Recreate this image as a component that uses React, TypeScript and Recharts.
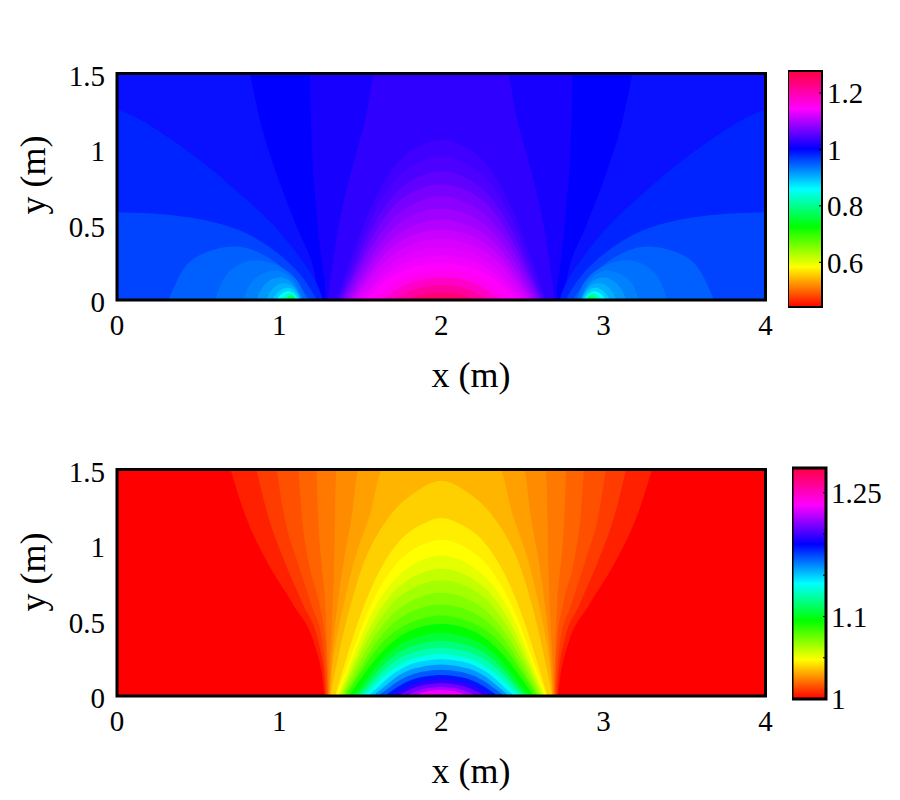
import React from 'react';
import { Area, Bar, BarChart, ComposedChart, ReferenceArea, XAxis, YAxis } from 'recharts';

const FONT = '"Liberation Serif", "Times New Roman", serif';

const xTicks = [0, 1, 2, 3, 4];
const yTicks = [0, 0.5, 1, 1.5];

// upper panel: far field wedges, hanging from the top edge
const topHangX = [
  [0.82, 0.883, 0.985, 1.11, 1.21, 1.26, 2.74, 2.79, 2.89, 3.015, 3.117, 3.18],
  [1.19, 1.2, 1.23, 1.27, 1.285, 1.29, 2.71, 2.715, 2.73, 2.77, 2.8, 2.81],
];
const topHangY = [
  [1.5, 1.184, 0.833, 0.482, 0.219, 0, 0, 0.219, 0.482, 0.833, 1.184, 1.5],
  [1.5, 1.1, 0.6, 0.2, 0.08, 0, 0, 0.08, 0.2, 0.6, 1.1, 1.5],
];
const topHangColors = ['#0000ff', '#1800ff'];

// upper panel: side lobes around the two low spots
const topLobeX = [
  [0, 0.14, 0.35, 0.55, 0.76, 0.97, 1.11, 1.23, 1.27, 2.73, 2.77, 2.89, 3.03, 3.24, 3.45, 3.65, 3.86, 4],
  [0, 0.245, 0.45, 0.656, 0.862, 1.027, 1.15, 1.233, 2.767, 2.85, 2.973, 3.138, 3.344, 3.55, 3.755, 4],
  [0.317, 0.41, 0.51, 0.68, 0.82, 0.99, 1.11, 1.19, 2.81, 2.89, 3.01, 3.18, 3.32, 3.49, 3.59, 3.683],
  [0.605, 0.655, 0.76, 0.883, 1.027, 1.13, 1.165, 2.835, 2.87, 2.973, 3.117, 3.24, 3.345, 3.395],
  [0.78, 0.82, 0.925, 1.03, 1.11, 1.145, 2.855, 2.89, 2.97, 3.075, 3.18, 3.22],
  [0.86, 0.89, 0.97, 1.05, 1.11, 1.14, 2.86, 2.89, 2.95, 3.03, 3.11, 3.14],
  [0.92, 0.95, 1.0, 1.07, 1.115, 1.135, 2.865, 2.885, 2.93, 3.0, 3.05, 3.08],
  [0.96, 0.985, 1.03, 1.08, 1.115, 1.13, 2.87, 2.885, 2.92, 2.97, 3.015, 3.04],
  [0.985, 1.01, 1.05, 1.09, 1.12, 2.88, 2.91, 2.95, 2.99, 3.015],
  [1.01, 1.04, 1.08, 1.11, 2.89, 2.92, 2.96, 2.99],
  [1.035, 1.06, 1.09, 1.105, 2.895, 2.91, 2.94, 2.965],
];
const topLobeY = [
  [1.26, 1.206, 1.053, 0.9, 0.7, 0.504, 0.307, 0.132, 0, 0, 0.132, 0.307, 0.504, 0.7, 0.9, 1.053, 1.206, 1.26],
  [0.581, 0.575, 0.549, 0.505, 0.417, 0.285, 0.154, 0, 0, 0.154, 0.285, 0.417, 0.505, 0.549, 0.575, 0.581],
  [0, 0.23, 0.307, 0.362, 0.35, 0.252, 0.12, 0, 0, 0.12, 0.252, 0.35, 0.362, 0.307, 0.23, 0],
  [0, 0.164, 0.252, 0.274, 0.219, 0.12, 0, 0, 0.12, 0.219, 0.274, 0.252, 0.164, 0],
  [0, 0.13, 0.197, 0.197, 0.11, 0, 0, 0.11, 0.197, 0.197, 0.13, 0],
  [0, 0.09, 0.155, 0.15, 0.08, 0, 0, 0.08, 0.15, 0.155, 0.09, 0],
  [0, 0.07, 0.115, 0.11, 0.06, 0, 0, 0.06, 0.11, 0.115, 0.07, 0],
  [0, 0.05, 0.085, 0.08, 0.04, 0, 0, 0.04, 0.08, 0.085, 0.05, 0],
  [0, 0.04, 0.065, 0.05, 0, 0, 0.05, 0.065, 0.04, 0],
  [0, 0.04, 0.055, 0, 0, 0.055, 0.04, 0],
  [0, 0.03, 0.035, 0, 0, 0.035, 0.03, 0],
];
const topLobeColors = ['#0024ff', '#0044ff', '#0060ff', '#0070ff', '#0080ff', '#0098ff', '#00b0ff', '#00d0ff', '#00ffff', '#00ffc0', '#00ff60'];

// upper panel: central dome
const topDomeX = [
  [1.3, 1.325, 1.356, 1.397, 1.459, 1.541, 1.592, 2.408, 2.459, 2.541, 2.603, 2.644, 2.675, 2.7],
  [1.355, 1.45, 1.55, 1.68, 1.81, 2, 2.19, 2.32, 2.45, 2.55, 2.645],
  [1.365, 1.46, 1.555, 1.68, 1.81, 2, 2.19, 2.32, 2.445, 2.54, 2.635],
  [1.375, 1.47, 1.56, 1.69, 1.81, 2, 2.19, 2.31, 2.44, 2.53, 2.625],
  [1.385, 1.48, 1.57, 1.69, 1.815, 2, 2.185, 2.31, 2.43, 2.52, 2.615],
  [1.4, 1.49, 1.58, 1.7, 1.82, 2, 2.18, 2.3, 2.42, 2.51, 2.6],
  [1.415, 1.5, 1.59, 1.71, 1.825, 2, 2.175, 2.29, 2.41, 2.5, 2.585],
  [1.43, 1.515, 1.6, 1.715, 1.83, 2, 2.17, 2.285, 2.4, 2.485, 2.57],
  [1.445, 1.53, 1.61, 1.72, 1.835, 2, 2.165, 2.28, 2.39, 2.47, 2.555],
  [1.46, 1.54, 1.62, 1.73, 1.84, 2, 2.16, 2.27, 2.38, 2.46, 2.54],
  [1.48, 1.56, 1.635, 1.74, 1.845, 2, 2.155, 2.26, 2.365, 2.44, 2.52],
  [1.5, 1.575, 1.65, 1.75, 1.85, 2, 2.15, 2.25, 2.35, 2.425, 2.5],
  [1.53, 1.6, 1.67, 1.765, 1.86, 2, 2.14, 2.235, 2.33, 2.4, 2.47],
  [1.57, 1.635, 1.7, 1.785, 1.87, 2, 2.13, 2.215, 2.3, 2.365, 2.43],
  [1.63, 1.685, 1.74, 1.815, 1.89, 2, 2.11, 2.185, 2.26, 2.315, 2.37],
  [1.71, 1.755, 1.795, 1.855, 1.915, 2, 2.085, 2.145, 2.205, 2.245, 2.29],
  [1.8, 1.83, 1.86, 1.9, 1.94, 2, 2.06, 2.1, 2.14, 2.17, 2.2],
];
const topDomeY = [
  [0, 0.2, 0.42, 0.64, 0.905, 1.235, 1.5, 1.5, 1.235, 0.905, 0.64, 0.42, 0.2, 0],
  [0, 0.29, 0.59, 0.86, 1.0, 1.09, 1.0, 0.86, 0.59, 0.29, 0],
  [0, 0.26, 0.53, 0.77, 0.89, 0.98, 0.89, 0.77, 0.53, 0.26, 0],
  [0, 0.23, 0.47, 0.69, 0.8, 0.88, 0.8, 0.69, 0.47, 0.23, 0],
  [0, 0.21, 0.42, 0.62, 0.72, 0.79, 0.72, 0.62, 0.42, 0.21, 0],
  [0, 0.19, 0.38, 0.55, 0.64, 0.71, 0.64, 0.55, 0.38, 0.19, 0],
  [0, 0.16, 0.34, 0.49, 0.57, 0.625, 0.57, 0.49, 0.34, 0.16, 0],
  [0, 0.15, 0.3, 0.43, 0.5, 0.55, 0.5, 0.43, 0.3, 0.15, 0],
  [0, 0.13, 0.26, 0.38, 0.44, 0.48, 0.44, 0.38, 0.26, 0.13, 0],
  [0, 0.11, 0.23, 0.33, 0.38, 0.42, 0.38, 0.33, 0.23, 0.11, 0],
  [0, 0.09, 0.19, 0.28, 0.33, 0.36, 0.33, 0.28, 0.19, 0.09, 0],
  [0, 0.08, 0.165, 0.24, 0.28, 0.305, 0.28, 0.24, 0.165, 0.08, 0],
  [0, 0.07, 0.14, 0.2, 0.23, 0.255, 0.23, 0.2, 0.14, 0.07, 0],
  [0, 0.054, 0.11, 0.16, 0.186, 0.205, 0.186, 0.16, 0.11, 0.054, 0],
  [0, 0.04, 0.08, 0.12, 0.14, 0.155, 0.14, 0.12, 0.08, 0.04, 0],
  [0, 0.03, 0.055, 0.08, 0.093, 0.102, 0.093, 0.08, 0.055, 0.03, 0],
  [0, 0.014, 0.03, 0.04, 0.047, 0.052, 0.047, 0.04, 0.03, 0.014, 0],
];
const topDomeColors = ['#3000ff', '#4000ff', '#4c00ff', '#6000ff', '#7800ff', '#8c00ff', '#a000ff', '#b400ff', '#c800ff', '#d800ff', '#e400ff', '#f000ff', '#ff00ff', '#ff00f0', '#ff00c8', '#ff00a0', '#ff0070'];

// lower panel: orange wedges hanging from the top edge
const lowHangX = [
  [0.7, 0.79, 0.92, 1.09, 1.21, 1.26, 1.285, 2.715, 2.74, 2.79, 2.91, 3.08, 3.21, 3.3],
  [0.86, 0.93, 1.03, 1.15, 1.24, 1.275, 1.29, 2.71, 2.725, 2.76, 2.85, 2.97, 3.07, 3.14],
  [0.985, 1.03, 1.11, 1.2, 1.265, 1.285, 1.295, 2.705, 2.715, 2.735, 2.8, 2.89, 2.97, 3.015],
  [1.12, 1.14, 1.18, 1.25, 1.285, 1.295, 1.3, 2.7, 2.705, 2.715, 2.75, 2.82, 2.86, 2.88],
  [1.23, 1.24, 1.26, 1.285, 1.295, 1.3, 1.303, 2.697, 2.7, 2.705, 2.715, 2.74, 2.76, 2.77],
];
const lowHangY = [
  [1.5, 1.2, 0.9, 0.6, 0.37, 0.17, 0, 0, 0.17, 0.37, 0.6, 0.9, 1.2, 1.5],
  [1.5, 1.2, 0.9, 0.6, 0.37, 0.17, 0, 0, 0.17, 0.37, 0.6, 0.9, 1.2, 1.5],
  [1.5, 1.2, 0.9, 0.6, 0.37, 0.17, 0, 0, 0.17, 0.37, 0.6, 0.9, 1.2, 1.5],
  [1.5, 1.2, 0.9, 0.6, 0.37, 0.17, 0, 0, 0.17, 0.37, 0.6, 0.9, 1.2, 1.5],
  [1.5, 1.2, 0.9, 0.6, 0.37, 0.17, 0, 0, 0.17, 0.37, 0.6, 0.9, 1.2, 1.5],
];
const lowHangColors = ['#ff2000', '#ff3c00', '#ff5000', '#ff6400', '#ff7800'];

// lower panel: central dome
const lowDomeX = [
  [1.305, 1.31, 1.32, 1.33, 1.34, 1.345, 1.355, 2.645, 2.655, 2.66, 2.67, 2.68, 2.69, 2.695],
  [1.31, 1.32, 1.335, 1.36, 1.4, 1.45, 1.49, 2.51, 2.55, 2.6, 2.64, 2.665, 2.68, 2.69],
  [1.315, 1.326, 1.353, 1.397, 1.465, 1.56, 1.64, 2.36, 2.44, 2.535, 2.603, 2.647, 2.674, 2.685],
  [1.315, 1.366, 1.418, 1.469, 1.52, 1.582, 1.665, 1.767, 1.87, 2, 2.13, 2.233, 2.335, 2.418, 2.48, 2.531, 2.582, 2.634, 2.685],
  [1.345, 1.428, 1.479, 1.541, 1.603, 1.685, 1.788, 1.911, 2, 2.089, 2.212, 2.315, 2.397, 2.459, 2.521, 2.572, 2.655],
  [1.35, 1.45, 1.545, 1.675, 1.805, 2, 2.195, 2.325, 2.455, 2.55, 2.65],
  [1.36, 1.455, 1.55, 1.68, 1.81, 2, 2.19, 2.32, 2.45, 2.545, 2.64],
  [1.37, 1.465, 1.56, 1.685, 1.81, 2, 2.19, 2.315, 2.44, 2.535, 2.63],
  [1.38, 1.47, 1.565, 1.69, 1.815, 2, 2.185, 2.31, 2.435, 2.53, 2.62],
  [1.39, 1.48, 1.575, 1.695, 1.815, 2, 2.185, 2.305, 2.425, 2.52, 2.61],
  [1.4, 1.49, 1.58, 1.7, 1.82, 2, 2.18, 2.3, 2.42, 2.51, 2.6],
  [1.41, 1.5, 1.585, 1.705, 1.825, 2, 2.175, 2.295, 2.415, 2.5, 2.59],
  [1.43, 1.515, 1.6, 1.715, 1.83, 2, 2.17, 2.285, 2.4, 2.485, 2.57],
  [1.46, 1.54, 1.62, 1.73, 1.84, 2, 2.16, 2.27, 2.38, 2.46, 2.54],
  [1.48, 1.56, 1.635, 1.74, 1.845, 2, 2.155, 2.26, 2.365, 2.44, 2.52],
  [1.5, 1.575, 1.65, 1.75, 1.85, 2, 2.15, 2.25, 2.35, 2.425, 2.5],
  [1.52, 1.59, 1.665, 1.76, 1.855, 2, 2.145, 2.24, 2.335, 2.41, 2.48],
  [1.55, 1.62, 1.685, 1.775, 1.865, 2, 2.135, 2.225, 2.315, 2.38, 2.45],
  [1.58, 1.645, 1.705, 1.79, 1.875, 2, 2.125, 2.21, 2.295, 2.355, 2.42],
  [1.61, 1.67, 1.725, 1.805, 1.885, 2, 2.115, 2.195, 2.275, 2.33, 2.39],
  [1.65, 1.7, 1.755, 1.825, 1.895, 2, 2.105, 2.175, 2.245, 2.3, 2.35],
  [1.69, 1.735, 1.785, 1.845, 1.905, 2, 2.095, 2.155, 2.215, 2.265, 2.31],
  [1.73, 1.77, 1.81, 1.865, 1.92, 2, 2.08, 2.135, 2.19, 2.23, 2.27],
  [1.78, 1.815, 1.845, 1.89, 1.935, 2, 2.065, 2.11, 2.155, 2.185, 2.22],
  [1.83, 1.855, 1.88, 1.915, 1.95, 2, 2.05, 2.085, 2.12, 2.145, 2.17],
];
const lowDomeY = [
  [0, 0.17, 0.37, 0.6, 0.9, 1.2, 1.5, 1.5, 1.2, 0.9, 0.6, 0.37, 0.17, 0],
  [0, 0.17, 0.37, 0.6, 0.9, 1.2, 1.5, 1.5, 1.2, 0.9, 0.6, 0.37, 0.17, 0],
  [0, 0.17, 0.37, 0.6, 0.9, 1.2, 1.5, 1.5, 1.2, 0.9, 0.6, 0.37, 0.17, 0],
  [0, 0.272, 0.515, 0.713, 0.889, 1.03, 1.177, 1.298, 1.375, 1.45, 1.375, 1.298, 1.177, 1.03, 0.889, 0.713, 0.515, 0.272, 0],
  [0, 0.295, 0.471, 0.648, 0.802, 0.956, 1.089, 1.155, 1.19, 1.155, 1.089, 0.956, 0.802, 0.648, 0.471, 0.295, 0],
  [0, 0.28, 0.57, 0.83, 0.97, 1.065, 0.97, 0.83, 0.57, 0.28, 0],
  [0, 0.25, 0.52, 0.75, 0.87, 0.96, 0.87, 0.75, 0.52, 0.25, 0],
  [0, 0.23, 0.47, 0.68, 0.79, 0.87, 0.79, 0.68, 0.47, 0.23, 0],
  [0, 0.21, 0.42, 0.62, 0.72, 0.79, 0.72, 0.62, 0.42, 0.21, 0],
  [0, 0.19, 0.38, 0.55, 0.64, 0.705, 0.64, 0.55, 0.38, 0.19, 0],
  [0, 0.16, 0.34, 0.49, 0.57, 0.625, 0.57, 0.49, 0.34, 0.16, 0],
  [0, 0.15, 0.3, 0.43, 0.5, 0.55, 0.5, 0.43, 0.3, 0.15, 0],
  [0, 0.13, 0.26, 0.38, 0.45, 0.49, 0.45, 0.38, 0.26, 0.13, 0],
  [0, 0.11, 0.23, 0.34, 0.39, 0.43, 0.39, 0.34, 0.23, 0.11, 0],
  [0, 0.1, 0.2, 0.3, 0.34, 0.38, 0.34, 0.3, 0.2, 0.1, 0],
  [0, 0.09, 0.18, 0.26, 0.3, 0.33, 0.3, 0.26, 0.18, 0.09, 0],
  [0, 0.075, 0.155, 0.22, 0.26, 0.287, 0.26, 0.22, 0.155, 0.075, 0],
  [0, 0.066, 0.135, 0.196, 0.23, 0.25, 0.23, 0.196, 0.135, 0.066, 0],
  [0, 0.057, 0.115, 0.17, 0.195, 0.215, 0.195, 0.17, 0.115, 0.057, 0],
  [0, 0.047, 0.096, 0.14, 0.163, 0.18, 0.163, 0.14, 0.096, 0.047, 0],
  [0, 0.038, 0.077, 0.112, 0.13, 0.143, 0.13, 0.112, 0.077, 0.038, 0],
  [0, 0.03, 0.06, 0.088, 0.102, 0.113, 0.102, 0.088, 0.06, 0.03, 0],
  [0, 0.023, 0.047, 0.068, 0.079, 0.087, 0.079, 0.068, 0.047, 0.023, 0],
  [0, 0.016, 0.033, 0.048, 0.056, 0.062, 0.056, 0.048, 0.033, 0.016, 0],
  [0, 0.011, 0.022, 0.032, 0.037, 0.041, 0.037, 0.032, 0.022, 0.011, 0],
];
const lowDomeColors = ['#ff8c00', '#ffa000', '#ffb400', '#ffd000', '#ffee00', '#ffff00', '#e4ff00', '#c4ff00', '#a4ff00', '#84ff00', '#60ff00', '#38ff00', '#00ff00', '#00ff38', '#00ff78', '#00ffb4', '#00ffec', '#00d0ff', '#0094ff', '#0058ff', '#0014ff', '#3000ff', '#7000ff', '#b000ff', '#f800ff'];

// colour bars
const topBarRange = [0.4415, 1.278];
const topBarTicks = [0.6, 0.8, 1, 1.2];
const lowBarRange = [1, 1.28];
const lowBarTicks = [1, 1.05, 1.1, 1.15, 1.2, 1.25];
const lowBarLabelled = [1, 1.1, 1.25];
const barStopOffsets = ['0%', '17%', '34%', '50%', '67%', '84%', '100%'];
const barStopColors = ['#ff0000', '#ffff00', '#00ff00', '#00ffff', '#0000ff', '#ff00ff', '#ff0040'];

type Band = { xs: number[]; ys: number[]; color: string; hang: boolean };

const bands = (xs: number[][], ys: number[][], colors: string[], hang = false): Band[] =>
  xs.map((x, i) => ({ xs: x, ys: ys[i], color: colors[i], hang }));

const topBands: Band[] = [
  ...bands(topHangX, topHangY, topHangColors, true),
  ...bands(topLobeX, topLobeY, topLobeColors),
  ...bands(topDomeX, topDomeY, topDomeColors),
];
const lowBands: Band[] = [
  ...bands(lowHangX, lowHangY, lowHangColors, true),
  ...bands(lowDomeX, lowDomeY, lowDomeColors),
];

// two feet in a row mean a gap between the left and right lobe
const toPoints = (b: Band) => {
  const points: { x: number; y: number | null }[] = [];
  b.xs.forEach((x, j) => {
    if (!b.hang && j > 0 && b.ys[j] === 0 && b.ys[j - 1] === 0) points.push({ x: (x + b.xs[j - 1]) / 2, y: null });
    points.push({ x, y: b.ys[j] });
  });
  return points;
};

const curveOf = (b: Band) => (b.hang || Math.max(...b.ys) >= 1.5 ? 'monotone' : 'basis');

const Panel = ({ top, background, levels, yLabelAt }: { top: number; background: string; levels: Band[]; yLabelAt: number }) => (
  <div style={{ position: 'absolute', left: 0, top }}>
    <ComposedChart width={790} height={400} margin={{ top: 73.5, right: 24.5, bottom: 30, left: 40 }}>
      <XAxis
        dataKey="x"
        type="number"
        domain={[0, 4]}
        ticks={xTicks}
        axisLine={false}
        tickLine={false}
        tickMargin={8}
        height={70}
        tick={{ fontSize: 29, fill: '#000', fontFamily: FONT }}
      />
      <YAxis
        type="number"
        domain={[0, 1.5]}
        ticks={yTicks}
        axisLine={false}
        tickLine={false}
        tickMargin={6}
        width={77}
        tick={{ fontSize: 29, fill: '#000', fontFamily: FONT, dy: 2 }}
      />
      <Area
        data={[{ x: 0, y: 1.5 }, { x: 4, y: 1.5 }]}
        dataKey="y"
        type="linear"
        fill={background}
        fillOpacity={1}
        stroke="none"
        dot={false}
        activeDot={false}
        isAnimationActive={false}
      />
      {levels.map((b, i) => (
        <Area
          key={i}
          data={toPoints(b)}
          dataKey="y"
          type={curveOf(b)}
          baseValue={b.hang ? 1.5 : 0}
          fill={b.color}
          fillOpacity={1}
          stroke="none"
          dot={false}
          activeDot={false}
          isAnimationActive={false}
        />
      ))}
      <ReferenceArea x1={0} x2={4} y1={0} y2={1.5} fill="none" stroke="#000" strokeWidth={3} ifOverflow="visible" />
      <text x={471} y={387} textAnchor="middle" fontSize={36} fontFamily={FONT} fill="#000">x (m)</text>
      <text transform={`translate(45,${yLabelAt}) rotate(-90)`} textAnchor="middle" fontSize={36} fontFamily={FONT} fill="#000">y (m)</text>
    </ComposedChart>
  </div>
);

const ColorBar = ({ id, left, top, barHeight, range, ticks, labelled, borderWidth }: {
  id: string; left: number; top: number; barHeight: number; range: number[]; ticks: number[]; labelled: number[]; borderWidth: number;
}) => (
  <div style={{ position: 'absolute', left, top }}>
    <BarChart
      width={110}
      height={barHeight + 50}
      data={[{ name: 'scale', range }]}
      barCategoryGap={0}
      margin={{ top: 25, right: 0, bottom: 25, left: 0 }}
    >
      <defs>
        <linearGradient id={id} x1="0" y1="1" x2="0" y2="0">
          {barStopOffsets.map((o, i) => (
            <stop key={o} offset={o} stopColor={barStopColors[i]} />
          ))}
        </linearGradient>
      </defs>
      <XAxis dataKey="name" hide />
      <YAxis
        orientation="right"
        type="number"
        domain={[range[0], range[1]]}
        ticks={ticks}
        interval={0}
        axisLine={false}
        tickSize={-3}
        tickMargin={8}
        stroke="#000"
        width={76}
        tick={{ fontSize: 29, fill: '#000', fontFamily: FONT }}
        tickFormatter={(v: number) => (labelled.includes(v) ? String(v) : '')}
      />
      <Bar dataKey="range" fill={`url(#${id})`} stroke="#000" strokeWidth={borderWidth} isAnimationActive={false} />
    </BarChart>
  </div>
);

export default function App() {
  return (
    <div style={{ position: 'absolute', left: 0, top: 0, width: 900, height: 800, background: '#fff' }}>
      <Panel top={0} background="#0810ff" levels={topBands} yLabelAt={175} />
      <Panel top={396} background="#ff0000" levels={lowBands} yLabelAt={176} />
      <ColorBar id="topBar" left={788} top={46} barHeight={236} range={topBarRange} ticks={topBarTicks} labelled={topBarTicks} borderWidth={2} />
      <ColorBar id="lowBar" left={792} top={443} barHeight={231} range={lowBarRange} ticks={lowBarTicks} labelled={lowBarLabelled} borderWidth={3} />
    </div>
  );
}
